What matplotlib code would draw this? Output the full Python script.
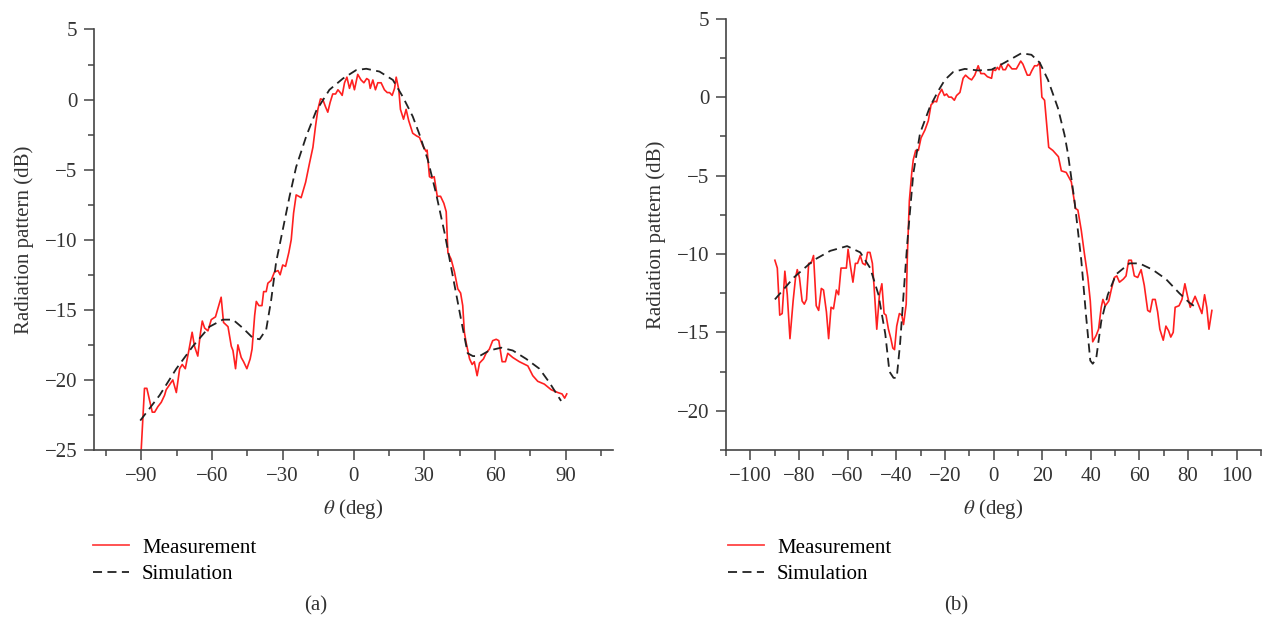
import numpy as np
import matplotlib
matplotlib.use('Agg')
import matplotlib.pyplot as plt
from matplotlib.ticker import MultipleLocator
from matplotlib.lines import Line2D

plt.rcParams['font.family'] = ['Liberation Serif', 'DejaVu Serif']
plt.rcParams['mathtext.fontset'] = 'stix'

# (a) measurement
a_meas_x = [-90.0, -89.3, -88.6, -87.6, -85.3, -84.3, -82.9, -81.5, -80.1, -79.4, -78.2, -76.6,
            -75.1, -73.7, -72.6, -71.3, -69.8, -68.4, -67.4, -66.0, -65.0, -64.1, -63.1, -61.7,
            -60.3, -58.5, -56.1, -55.1, -53.2, -51.8, -51.1, -50.0, -49.0, -47.6, -46.6, -45.2,
            -43.8, -43.0, -41.9, -41.2, -40.1, -38.8, -38.1, -37.0, -36.3, -34.9, -33.5, -32.0,
            -31.1, -30.0, -28.8, -27.4, -26.4, -25.4, -24.3, -23.2, -22.2, -20.3, -18.6, -17.2,
            -16.1, -15.1, -14.0, -13.0, -11.9, -10.9, -9.9, -8.8, -7.6, -6.6, -5.6, -4.8,
            -3.8, -2.8, -1.7, -0.6, 0.4, 1.8, 3.2, 4.4, 5.6, 6.5, 7.1, 8.2,
            9.3, 10.3, 11.7, 13.1, 14.3, 15.3, 16.4, 17.4, 18.1, 19.2, 19.9, 21.2,
            22.3, 23.4, 25.1, 26.8, 28.0, 29.4, 30.8, 31.2, 32.2, 33.2, 34.2, 35.5,
            36.9, 38.3, 39.3, 40.0, 41.4, 42.8, 44.2, 45.4, 46.3, 47.0, 47.7, 49.2,
            50.3, 51.2, 52.4, 53.4, 55.1, 56.2, 57.6, 59.0, 60.5, 61.6, 63.0, 64.4,
            65.4, 67.5, 70.3, 73.9, 76.0, 78.1, 80.9, 83.8, 86.6, 88.4, 89.5, 90.4]
a_meas_y = [-25.0, -22.8, -20.6, -20.6, -22.3, -22.3, -21.9, -21.6, -21.1, -20.7, -20.4, -20.0,
            -20.9, -19.2, -18.9, -19.2, -17.9, -16.6, -17.6, -18.3, -16.8, -15.8, -16.3, -16.5,
            -15.7, -15.5, -14.1, -15.9, -16.2, -17.6, -17.9, -19.2, -17.5, -18.4, -18.7, -19.2,
            -18.5, -17.8, -15.4, -14.4, -14.7, -14.7, -13.7, -13.7, -13.1, -12.9, -12.3, -12.2,
            -12.5, -11.8, -11.9, -10.9, -10.0, -8.1, -6.8, -6.9, -7.0, -5.9, -4.5, -3.4,
            -1.9, -0.7, 0.05, 0.0, -0.5, -0.9, -0.2, 0.4, 0.4, 0.7, 0.5, 0.3,
            1.2, 1.6, 0.8, 1.4, 0.7, 1.8, 1.4, 1.2, 1.5, 1.4, 0.8, 1.4,
            0.7, 1.2, 1.2, 0.7, 0.5, 0.5, 0.3, 0.8, 1.6, 0.7, -0.7, -1.4,
            -0.7, -1.5, -2.4, -2.6, -2.7, -3.3, -3.7, -3.6, -5.5, -5.6, -5.5, -6.9,
            -6.9, -7.4, -8.0, -10.9, -11.4, -12.3, -13.5, -13.8, -14.7, -16.6, -17.3, -18.5,
            -18.9, -18.7, -19.7, -18.8, -18.5, -18.1, -17.8, -17.2, -17.1, -17.2, -18.7, -18.7,
            -18.1, -18.4, -18.7, -19.0, -19.7, -20.1, -20.3, -20.7, -20.9, -21.0, -21.3, -21.0]

# (a) simulation
a_sim_x = [-90.4, -82.2, -75.1, -68.1, -61.0, -55.4, -51.1, -46.9, -42.7, -39.8, -37.0, -34.9,
           -32.8, -30.0, -27.1, -24.3, -20.0, -15.8, -10.2, -4.5, 1.1, 5.4, 11.0, 16.7,
           20.9, 25.1, 28.0, 31.5, 35.0, 38.6, 42.1, 45.6, 48.4, 50.6, 53.4, 57.6,
           62.6, 67.5, 73.2, 78.8, 83.1, 88.0]
a_sim_y = [-22.9, -21.1, -19.2, -17.6, -16.2, -15.7, -15.7, -16.3, -17.0, -17.1, -16.4, -14.3,
           -11.6, -9.3, -6.9, -4.8, -2.6, -0.8, 0.7, 1.5, 2.1, 2.2, 2.0, 1.4,
           0.2, -1.2, -2.5, -4.3, -6.7, -9.5, -12.6, -15.7, -18.1, -18.3, -18.3, -17.9,
           -17.7, -17.9, -18.5, -19.2, -20.2, -21.5]

# (b) measurement
b_meas_x = [-89.9, -88.9, -87.9, -86.9, -85.8, -84.8, -83.7, -82.4, -81.4, -80.7, -79.8, -78.7,
            -77.8, -76.9, -76.0, -75.0, -74.0, -72.9, -71.9, -70.8, -69.9, -68.7, -67.8, -66.8,
            -65.8, -64.6, -63.7, -62.7, -61.6, -60.5, -59.8, -58.9, -57.8, -56.8, -55.9, -54.8,
            -53.8, -52.7, -51.8, -50.8, -49.8, -49.1, -48.0, -46.9, -45.9, -45.0, -44.2, -43.2,
            -42.2, -41.4, -40.7, -39.8, -38.7, -37.7, -37.0, -35.9, -35.4, -34.6, -33.6, -33.0,
            -32.0, -30.9, -29.8, -28.2, -26.8, -25.7, -24.3, -23.4, -22.7, -21.3, -20.2, -19.3,
            -18.4, -17.3, -16.1, -15.2, -13.8, -12.5, -11.5, -10.1, -9.0, -7.7, -6.3, -5.2,
            -3.8, -2.5, -0.8, -0.2, 0.8, 1.6, 2.3, 3.0, 3.9, 4.9, 6.0, 7.6,
            9.4, 11.2, 12.1, 13.9, 14.9, 15.8, 16.9, 18.0, 19.0, 19.9, 21.0, 22.7,
            24.4, 26.7, 27.9, 29.9, 32.0, 33.7, 34.7, 36.1, 37.4, 38.8, 39.8, 40.8,
            42.2, 43.2, 44.3, 45.0, 46.0, 47.4, 48.4, 49.7, 50.7, 51.8, 53.4, 54.5,
            55.6, 56.7, 57.9, 59.3, 60.7, 62.0, 63.4, 64.4, 65.4, 66.5, 67.5, 68.4,
            69.8, 70.9, 72.0, 72.9, 73.9, 74.7, 76.3, 77.5, 78.7, 79.8, 80.9, 81.8,
            82.9, 84.2, 85.7, 86.8, 87.7, 88.6, 89.8]
b_meas_y = [-10.4, -10.9, -13.9, -13.8, -11.1, -12.6, -15.4, -13.0, -11.5, -11.0, -11.5, -13.0,
            -13.2, -12.9, -10.6, -10.6, -10.1, -13.3, -13.6, -12.2, -12.3, -13.7, -15.4, -13.4,
            -13.5, -12.3, -12.6, -10.9, -10.9, -10.9, -9.7, -10.7, -11.8, -10.6, -10.6, -10.1,
            -10.6, -10.7, -9.9, -9.9, -10.6, -12.1, -14.8, -12.6, -11.9, -13.8, -13.9, -14.8,
            -15.4, -16.0, -16.1, -14.6, -13.8, -13.9, -14.5, -13.2, -10.0, -6.6, -4.8, -4.0,
            -3.4, -3.4, -2.6, -2.1, -1.5, -0.5, -0.26, -0.3, 0.1, 0.5, 0.1, 0.2,
            0.0, 0.0, -0.2, 0.1, 0.3, 1.2, 1.4, 1.2, 1.1, 1.4, 2.0, 1.5,
            1.5, 1.3, 1.2, 1.75, 1.7, 1.9, 1.75, 2.1, 1.75, 1.75, 2.1, 1.8,
            1.8, 2.3, 2.1, 1.4, 1.4, 1.7, 2.0, 2.0, 2.2, 0.0, -0.2, -3.2,
            -3.4, -3.8, -4.7, -4.8, -5.4, -7.1, -7.2, -8.5, -10.0, -11.5, -13.0, -15.6,
            -15.2, -14.8, -13.4, -12.9, -13.3, -13.0, -12.3, -11.5, -11.4, -11.8, -11.6, -11.4,
            -10.4, -10.4, -11.4, -11.5, -11.0, -12.0, -13.6, -13.7, -12.9, -12.9, -13.7, -14.8,
            -15.5, -14.6, -14.9, -15.3, -15.0, -13.4, -13.3, -12.9, -11.9, -12.7, -13.4, -13.1,
            -12.7, -13.2, -13.8, -12.6, -13.4, -14.8, -13.6]

# (b) simulation
b_sim_x = [-89.9, -82.1, -74.0, -67.1, -60.2, -54.8, -50.7, -47.3, -44.5, -42.8, -41.1, -39.8,
           -38.4, -37.0, -35.4, -33.0, -30.2, -26.1, -22.7, -20.0, -16.6, -11.8, -6.3, -0.8,
           4.6, 11.5, 15.6, 19.0, 22.4, 26.5, 29.2, 30.6, 33.3, 36.1, 38.1, 39.8,
           40.8, 42.2, 44.3, 47.0, 50.4, 55.9, 60.0, 65.4, 70.9, 76.4, 80.5, 83.2]
b_sim_y = [-12.9, -11.5, -10.4, -9.8, -9.5, -9.9, -10.9, -12.6, -15.1, -17.5, -17.9, -17.9,
           -15.7, -12.6, -9.2, -4.9, -2.3, -0.6, 0.4, 1.1, 1.6, 1.8, 1.7, 1.75,
           2.2, 2.8, 2.7, 2.2, 1.1, -0.7, -2.4, -3.6, -6.6, -10.4, -14.0, -16.8,
           -17.0, -16.7, -14.3, -12.6, -11.3, -10.6, -10.6, -11.0, -11.6, -12.5, -13.1, -13.4]

red = '#ff2020'
dark = '#444444'
fs = 15

fig = plt.figure(figsize=(12.65, 6.18), dpi=100)
W, H = 1265, 618
ax1 = fig.add_axes([94 / W, 1 - 450 / H, (613 - 94) / W, (450 - 29.5) / H])
ax2 = fig.add_axes([726 / W, 1 - 450 / H, (1261 - 726) / W, (450 - 18.7) / H])

ax1.plot(a_meas_x, a_meas_y, color=red, lw=1.2)
ax1.plot(a_sim_x, a_sim_y, color='#222222', lw=1.3, ls=(0, (5, 3)))
ax2.plot(b_meas_x, b_meas_y, color=red, lw=1.2)
ax2.plot(b_sim_x, b_sim_y, color='#222222', lw=1.3, ls=(0, (5, 3)))

ax1.set_xlim(-110, 110)
ax1.set_ylim(-25, 5)
ax1.set_xticks(np.arange(-90, 91, 30))
ax1.xaxis.set_minor_locator(MultipleLocator(15))
ax1.set_yticks(np.arange(-25, 6, 5))
ax1.yaxis.set_minor_locator(MultipleLocator(2.5))

ax2.set_xlim(-110, 110)
ax2.set_ylim(-22.5, 5)
ax2.set_xticks(np.arange(-100, 101, 20))
ax2.xaxis.set_minor_locator(MultipleLocator(10))
ax2.set_yticks(np.arange(-20, 6, 5))
ax2.yaxis.set_minor_locator(MultipleLocator(2.5))

handles = [Line2D([], [], color='#ff4444', lw=1.3),
           Line2D([], [], color='#222222', lw=1.3, ls=(0, (5, 3)))]

for ax, lx, cx, tag in [(ax1, 93, 316, '(a)'), (ax2, 728, 956, '(b)')]:
    for s in ['top', 'right']:
        ax.spines[s].set_visible(False)
    for s in ['left', 'bottom']:
        ax.spines[s].set_color(dark)
        ax.spines[s].set_linewidth(1.2)
    ax.tick_params(which='major', direction='out', length=7, width=1.1, color=dark,
                   labelsize=fs, labelcolor='#333333', pad=5)
    ax.tick_params(which='minor', direction='out', length=4, width=1.1, color=dark)
    ax.set_xlabel(r'$\theta$ (deg)', fontsize=fs, color='#333333', labelpad=8)
    ax.set_ylabel('Radiation pattern (dB)', fontsize=fs, color='#333333', labelpad=8)
    ax.legend(handles, ['Measurement', 'Simulation'], loc='upper left',
              bbox_to_anchor=(lx / W, 1 - 538 / H), bbox_transform=fig.transFigure,
              frameon=False, fontsize=fs, handlelength=1.75, handletextpad=0.6,
              labelspacing=0.32, borderpad=0, borderaxespad=0)
    fig.text(cx / W, 1 - 606 / H, tag, ha='center', va='center', fontsize=fs, color='#333333')

fig.savefig('out.png', dpi=100)
